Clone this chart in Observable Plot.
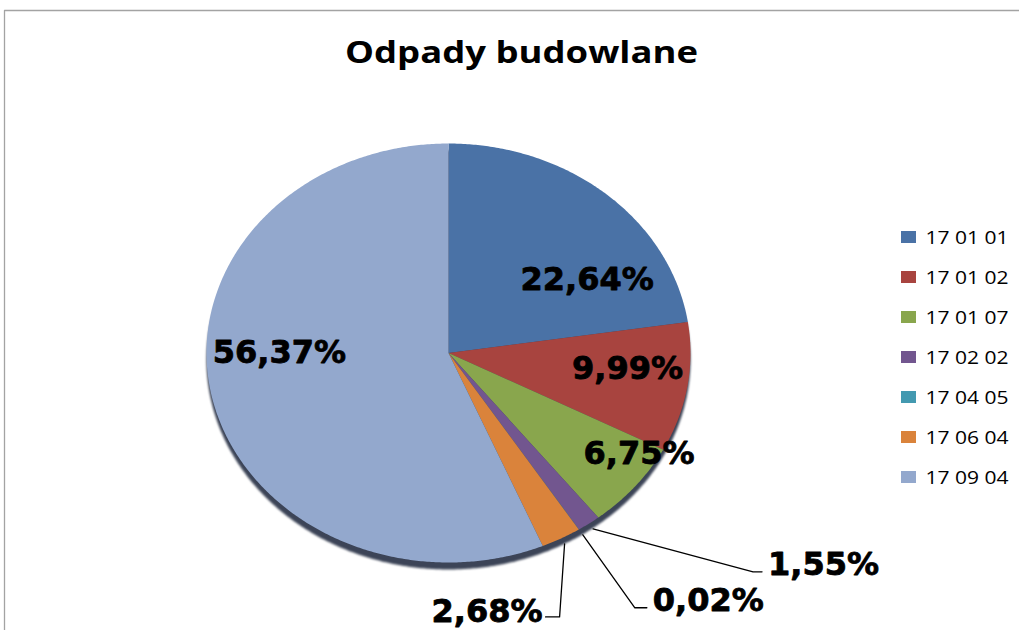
<!DOCTYPE html>
<html><head><meta charset="utf-8">
<script src="https://cdn.jsdelivr.net/npm/d3@7"></script>
<script src="https://cdn.jsdelivr.net/npm/@observablehq/plot@0.6"></script>
<style>
body{margin:0;background:#fff;}
#chart{width:1019px;height:630px;}
.shadow path{filter:blur(1.2px);}
</style>
</head><body><div id="chart"></div>
<script>
const title = "Odpady budowlane";
const categories = ["17 01 01","17 01 02","17 01 07","17 02 02","17 04 05","17 06 04","17 09 04"];
const shares = [22.64, 9.99, 6.75, 1.55, 0.02, 2.68, 56.37];
const labels = ["22,64%","9,99%","6,75%","1,55%","0,02%","2,68%","56,37%"];
const colors = ["#4a72a6","#a8443f","#89a64d","#72568f","#4399b0","#da833b","#93a8cd"];

const W = 1019, H = 630;
const cx = 448, cy = 352.5, rx = 242, ry = 209.5;
const arcs = d3.pie().sort(null).value(d => d)(shares);
const pt = (a, r = 1) => [cx + rx * r * Math.sin(a), cy - ry * r * Math.cos(a)];

// slice polygons
const slicePts = [];
arcs.forEach((a, i) => {
  slicePts.push({cat: categories[i], x: cx, y: cy});
  const n = Math.max(2, Math.ceil((a.endAngle - a.startAngle) / (Math.PI / 360)));
  for (let k = 0; k <= n; k++) {
    const t = a.startAngle + (a.endAngle - a.startAngle) * k / n;
    const [x, y] = pt(t);
    slicePts.push({cat: categories[i], x, y});
  }
});
// shadow under the pie
const shadowPts = d3.range(0, 721).map(k => {
  const [x, y] = pt(k / 720 * 2 * Math.PI);
  return {x, y: y + 7};
});

// label layout (inside labels: radius factor + pixel nudge)
const inside = {0: [0.7, 28, 38], 1: [0.7, 12, -8], 2: [0.7, 60, 7], 6: [0.7, -3, -29]};
const insideLabels = [];
arcs.forEach((a, i) => {
  if (inside[i]) {
    const [r, dx, dy] = inside[i];
    const [x, y] = pt((a.startAngle + a.endAngle) / 2, r);
    insideLabels.push({x: x + dx, y: y + dy, text: labels[i]});
  }
});
// outside labels with leader lines: elbow offset, end offset, side
const outside = {3: [160, 43, 9, "start"], 4: [52, 73, 12, "start"], 5: [-5, 73, -14, "end"]};
const leaderPts = [], labelsRight = [], labelsLeft = [];
arcs.forEach((a, i) => {
  if (outside[i]) {
    const [ex, ey, tx, side] = outside[i];
    const [x0, y0] = pt((a.startAngle + a.endAngle) / 2, 1.03);
    const x1 = x0 + ex, y1 = y0 + ey, x2 = x1 + tx;
    leaderPts.push({k: i, x: x0, y: y0}, {k: i, x: x1, y: y1}, {k: i, x: x2, y: y1});
    if (side === "start") labelsRight.push({x: x2 + 6, y: y1 - 7, text: labels[i]});
    else labelsLeft.push({x: x2 - 3, y: y1 - 5, text: labels[i]});
  }
});

const legendRows = categories.map((c, i) => ({cat: c, y: 237 + 40 * i}));
const frame = [{x: 4, y: H}, {x: 4, y: 10}, {x: W, y: 10}];
const lblStyle = {fontSize: 32, fontWeight: "bold", fontFamily: "DejaVu Sans", fill: "#000",
  stroke: "#000", strokeWidth: 0.8};

const plot = Plot.plot({
  width: W, height: H,
  margin: 0,
  x: {domain: [0, W], range: [0, W], axis: null},
  y: {domain: [0, H], range: [0, H], axis: null},
  color: {domain: categories, range: colors},
  marks: [
    Plot.line(frame, {x: "x", y: "y", stroke: "#a3a3a3", strokeWidth: 1.3}),
    Plot.text([title], {x: () => 521, y: () => 53, text: d => d, fontSize: 30, fontWeight: "bold",
      fontFamily: "Open Sans", fill: "#000", className: "ttl"}),
    Plot.line(shadowPts, {x: "x", y: "y", fill: "#3c4457", stroke: "none", className: "shadow"}),
    Plot.line(slicePts, {x: "x", y: "y", z: "cat", fill: "cat", stroke: "none"}),
    Plot.text(insideLabels, {x: "x", y: "y", text: "text", ...lblStyle}),
    Plot.line(leaderPts, {x: "x", y: "y", z: "k", stroke: "#000", strokeWidth: 1.3}),
    Plot.text(labelsRight, {x: "x", y: "y", text: "text", textAnchor: "start", ...lblStyle}),
    Plot.text(labelsLeft, {x: "x", y: "y", text: "text", textAnchor: "end", ...lblStyle}),
    Plot.rect(legendRows, {x1: () => 901, x2: () => 916, y1: d => d.y - 6, y2: d => d.y + 6, fill: "cat"}),
    Plot.text(legendRows, {x: () => 925, y: "y", text: "cat", textAnchor: "start", fontSize: 19,
      fontFamily: "Open Sans", fill: "#000", className: "leg"})
  ]
});
d3.select(plot).selectAll(".ttl text").attr("textLength", 353).attr("lengthAdjust", "spacingAndGlyphs");
d3.select(plot).selectAll(".leg text").attr("textLength", 83).attr("lengthAdjust", "spacingAndGlyphs");
document.getElementById("chart").appendChild(plot);
</script>
</body></html>
